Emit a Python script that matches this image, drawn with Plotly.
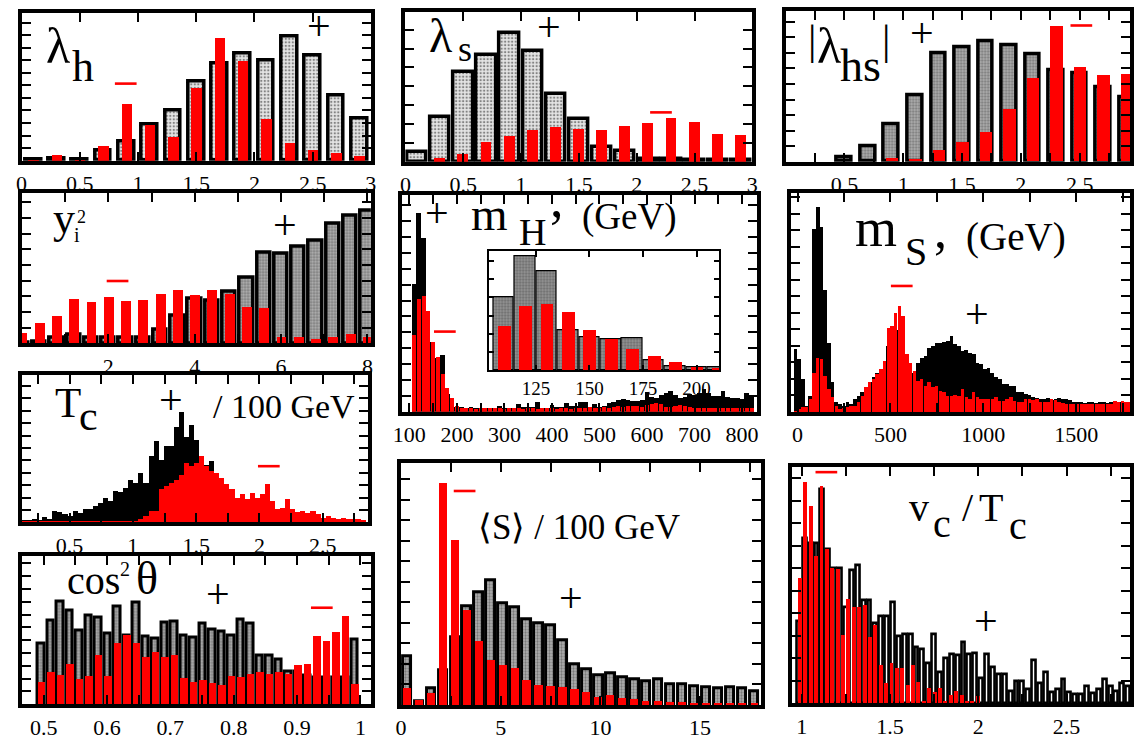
import plotly.graph_objects as go
import numpy as np

# ---------------- DATA (heights in arbitrary count units) ----------------
lam_bins = [0.1, 0.3, 0.5, 0.7, 0.9, 1.1, 1.3, 1.5, 1.7, 1.9, 2.1, 2.3, 2.5, 2.7, 2.9]
lh_plus = [3, 5, 3, 31, 59, 109, 153, 238, 293, 324, 303, 376, 319, 198, 128]
lh_minus = [4, 18, 4, 46, 173, 108, 74, 221, 371, 304, 128, 56, 34, 24, 14]
ls_plus = [29, 134, 271, 324, 389, 334, 204, 129, 44, 34, 9, 9, 6, 4, 6]
ls_minus = [0, 11, 24, 61, 77, 96, 106, 99, 97, 108, 117, 132, 119, 84, 82]

lhs_bins = [0.5, 0.7, 0.9, 1.1, 1.3, 1.5, 1.7, 1.9, 2.1, 2.3, 2.5, 2.7, 2.9]
lhs_plus = [14, 48, 114, 202, 327, 347, 364, 352, 326, 277, 268, 224, 196]
lhs_minus = [0, 0, 9, 7, 36, 59, 89, 159, 253, 411, 286, 261, 266]

yi_bins = [0.0, 0.4, 0.8, 1.2, 1.6, 2.0, 2.4, 2.8, 3.2, 3.6, 4.0, 4.4, 4.8, 5.2, 5.6, 6.0, 6.4, 6.8, 7.2, 7.6, 8.0]
yi_plus = [1, 4, 17, 27, 17, 17, 17, 17, 41, 84, 136, 129, 156, 199, 276, 271, 292, 311, 361, 386, 401]
yi_minus = [32, 64, 84, 136, 126, 141, 129, 132, 152, 162, 147, 164, 151, 112, 109, 19, 21, 14, 19, 29, 19]

mh_bins = list(range(110, 830, 10))
mh_plus = [385, 602, 525, 209, 174, 162, 171, 52, 21, 14,
           15, 12, 14, 10, 12, 11, 10, 12, 18, 10, 10, 12, 22, 15, 14, 15, 30, 12, 12, 20,
           15, 15, 25, 18, 18, 28, 28, 15, 22, 15, 17, 25, 30, 35, 38, 35, 32, 33, 35, 58,
           45, 42, 50, 55, 62, 50, 42, 45, 52, 50, 55, 68, 55, 48, 48, 62, 43, 42, 42, 38,
           55, 45]
mh_minus = [232, 340, 349, 305, 209, 166, 113, 72, 40, 17,
            12, 10, 12, 8, 12, 10, 12, 10, 12, 8, 10, 12, 10, 8, 12, 10, 8, 10, 12, 10,
            8, 12, 10, 8, 12, 10, 12, 14, 10, 12, 14, 12, 14, 16, 15, 18, 16, 18, 15, 20,
            22, 26, 24, 15, 14, 18, 20, 16, 14, 12, 12, 10, 12, 10, 12, 10, 12, 10, 10, 12,
            10, 10]

ms_bins = list(range(-10, 1800, 20))
ms_plus = [190, 160, 100, 20, 50, 555, 622, 560, 370, 210,
           90, 30, 25, 20, 30, 25, 40, 50, 60, 75,
           90, 105, 120, 130, 150, 200, 230, 250, 280, 240,
           160, 130, 120, 150, 165, 170, 195, 200, 210, 208,
           212, 215, 232, 205, 200, 185, 188, 180, 175, 150,
           145, 130, 135, 120, 105, 100, 85, 85, 80, 78,
           62, 60, 55, 52, 45, 42, 40, 40, 42, 38,
           40, 43, 40, 40, 38, 32, 30, 30, 28, 30,
           30, 28, 30, 30, 28, 30, 30, 28, 30, 30, 30]
ms_minus = [5, 10, 15, 15, 40, 120, 165, 160, 110, 70,
            45, 20, 10, 12, 15, 20, 20, 30, 50, 75,
            90, 100, 115, 130, 155, 255, 260, 300, 320, 290,
            175, 150, 125, 95, 100, 80, 90, 75, 80, 65,
            60, 50, 50, 52, 50, 70, 45, 40, 60, 45,
            40, 40, 40, 40, 47, 35, 35, 40, 45, 35,
            30, 30, 40, 40, 38, 40, 30, 30, 30, 40,
            38, 30, 28, 25, 25, 25, 25, 25, 25, 25,
            25, 25, 25, 25, 25, 25, 35, 30, 35, 30, 30]

tc_bins = [round(0.14 + 0.04 * k, 2) for k in range(68)]
tc_plus = [8, 8, 10, 8, 18, 12, 35, 32, 25, 20, 35, 30, 42, 40, 50, 60, 75, 65, 95, 92,
           105, 130, 120, 150, 120, 200, 245, 190, 230, 230, 290, 335, 260, 295, 250, 170, 175, 185, 140, 110,
           100, 75, 70, 65, 70, 75, 60, 50, 40, 40, 35, 30, 30, 25, 25, 22, 20, 15, 12, 15,
           10, 8, 10, 10, 8, 10, 8, 8]
tc_minus = [2] * 23 + [10, 20, 35, 35, 100, 110, 120, 130, 145, 180, 170, 180, 200, 170, 155, 150, 135, 115, 100,
                       75, 85, 70, 90, 75, 85, 115, 65, 40, 45, 70, 40, 32, 35, 30, 35, 25, 15, 20, 15,
                       12, 15, 10, 12, 10, 8]

cos_bins = [round(0.4955 + 0.015 * k, 4) for k in range(34)]
cos_plus = [185, 253, 312, 285, 222, 268, 264, 213, 297, 208, 308, 205, 200, 247, 250, 207, 203,
            243, 227, 220, 207, 257, 245, 148, 148, 135, 98, 98, 86, 80, 80, 80, 80, 195]
cos_minus = [67, 97, 87, 120, 75, 83, 148, 85, 185, 208, 183, 143, 158, 143, 147, 77, 65,
             73, 63, 58, 85, 82, 90, 97, 90, 97, 90, 117, 120, 205, 190, 217, 267, 60]

s_bins = [round(0.3 + 0.6 * k, 2) for k in range(30)]
s_plus = [147, 12, 50, 104, 205, 300, 342, 377, 307, 297, 260, 247, 242, 197, 124,
          109, 91, 97, 85, 77, 71, 77, 64, 64, 57, 55, 50, 55, 50, 42]
s_minus = [50, 15, 34, 672, 497, 285, 194, 134, 120, 112, 74, 59, 57, 53, 47,
           37, 22, 28, 19, 16, 12, 11, 9, 7, 6, 5, 5, 6, 6, 4]

vc_bins_plus = [round(0.983 + 0.0333 * k, 4) for k in range(57)]
vc_plus = [247, 499, 484, 484, 647, 467, 409, 409, 292, 402, 417, 312, 312, 242, 264, 264, 305, 202, 210, 210,
           170, 164, 122, 210, 94, 137, 147, 145, 184, 147, 152, 77, 147, 110, 87, 87, 37, 67, 67, 42,
           129, 62, 94, 34, 42, 74, 32, 27, 27, 52, 30, 42, 74, 52, 37, 62, 52]
vc_bins_minus = [round(0.989 + 0.0305 * k, 4) for k in range(34)]
vc_minus = [377, 670, 595, 445, 657, 465, 410, 405, 205, 315, 290, 290, 297, 200, 235, 115, 60,
            120, 105, 105, 55, 115, 65, 5, 45, 33, 45, 5, 25, 38, 23, 5, 5, 20]

# ---------------- LAYOUT HELPERS ----------------
W, H = 1136, 740
FONT = "Liberation Serif"
RED = "#ff0000"
fig = go.Figure()
layout = {}
annotations = []
shapes = []


def dom_x(a, b):
    return [max(0, a / W), min(1, b / W)]


def dom_y(top, bottom):
    return [1 - bottom / H, 1 - top / H]


def fmt(v):
    s = ("%.2f" % v).rstrip("0").rstrip(".")
    return s


def add_axes(i, xpx, ypx, xr, yr, ticks, labels, ydtick, lw=4, fs=22, tlen=9):
    xn = "xaxis" if i == 1 else "xaxis%d" % i
    yn = "yaxis" if i == 1 else "yaxis%d" % i
    ticktext = [fmt(t) if any(abs(t - l) < 1e-9 for l in labels) else "" for t in ticks]
    layout[xn] = dict(domain=dom_x(*xpx), range=xr, anchor="y" if i == 1 else "y%d" % i,
                      tickmode="array", tickvals=ticks, ticktext=ticktext,
                      ticks="inside", ticklen=tlen, tickwidth=1.5, tickcolor="black",
                      mirror="allticks", showline=True, linewidth=lw, linecolor="black",
                      showgrid=False, zeroline=False,
                      tickfont=dict(family=FONT, size=fs, color="black"))
    layout[yn] = dict(domain=dom_y(*ypx), range=yr, anchor="x" if i == 1 else "x%d" % i,
                      tickmode="linear", tick0=0, dtick=ydtick,
                      ticks="inside", ticklen=tlen, tickwidth=1.5, tickcolor="black",
                      mirror="allticks", showline=True, linewidth=lw, linecolor="black",
                      showgrid=False, zeroline=False, showticklabels=False)


LIGHT = dict(shape=".", fgcolor="#222222", bgcolor="#e4e4e4", size=3.5, solidity=0.35)
DARK = dict(shape=".", fgcolor="#333333", bgcolor="#b4b4b4", size=3, solidity=0.45)
INSET = dict(shape=".", fgcolor="#333333", bgcolor="#999999", size=3, solidity=0.45)


def bars(i, x, y, w, color="black", pattern=None, lw=0.0, lc="black"):
    ax = "" if i == 1 else str(i)
    marker = dict(color=color, line=dict(width=lw, color=lc))
    if pattern is not None:
        marker["pattern"] = pattern
    fig.add_trace(go.Bar(x=x, y=y, width=w, marker=marker, xaxis="x" + ax, yaxis="y" + ax,
                         showlegend=False, hoverinfo="skip"))


def txt(s, xc, base, size, color="black"):
    yc = base - 0.3375 * size
    annotations.append(dict(text=s, x=xc / W, y=1 - yc / H, xref="paper", yref="paper",
                            xanchor="center", yanchor="middle", showarrow=False,
                            font=dict(family=FONT, size=size, color=color)))


def pm(xp, yp, xm, ym, size=42):
    # black "+" sign as text, red "minus" sign as a short thick red stroke
    txt("+", xp, yp + 0.25 * size, size)
    shapes.append(dict(type="line", xref="paper", yref="paper",
                       x0=(xm - 11) / W, x1=(xm + 11) / W, y0=1 - ym / H, y1=1 - ym / H,
                       line=dict(color=RED, width=2.6)))


def rng(a, b, s):
    n = int(round((b - a) / s))
    return [round(a + k * s, 4) for k in range(n + 1)]


# ---- Panel 1: lambda_h
add_axes(1, (12.7, 366.7), (12.7, 162), [0, 3], [0, 448], rng(0, 3, 0.5), rng(0, 3, 0.5), 38)
bars(1, lam_bins, lh_plus, 0.135, "#e4e4e4", LIGHT, 3.5)
bars(1, lam_bins, lh_minus, 0.09, RED)
txt("λ", 50, 63, 50); txt("h", 75, 82, 44)
pm(314, 30, 118.3, 84.3)

# ---- Panel 2: lambda_s
add_axes(2, (401.7, 753.3), (12, 163), [0, 3], [0, 453], rng(0, 3, 0.5), rng(0, 3, 0.5), 57)
bars(2, lam_bins, ls_plus, 0.168, "#e4e4e4", LIGHT, 3.5)
bars(2, lam_bins, ls_minus, 0.094, RED)
txt("λ", 437.5, 51.7, 48); txt("s", 461.7, 61.7, 36)
pm(547.3, 30.7, 660.7, 113.3)

# ---- Panel 3: |lambda_hs|
add_axes(3, (787, 1136), (11.3, 163), [0, 2.928], [0, 455], rng(0.25, 2.75, 0.25), rng(0.5, 2.5, 0.5), 47)
bars(3, lhs_bins, lhs_plus, 0.126, "#b4b4b4", DARK, 3.5)
bars(3, lhs_bins, lhs_minus, 0.106, RED)
txt("|", 814, 55, 42); txt("λ", 830.8, 63.3, 50); txt("hs", 863.3, 81.7, 46); txt("|", 888.3, 55, 42)
pm(925, 36.7, 1086.7, 25.7)

# ---- Panel 4: y_i^2
add_axes(4, (12.7, 366.7), (194.3, 346.3), [-0.01, 8.08], [0, 456], rng(1, 8, 1), [2, 4, 6, 8], 47.5)
bars(4, yi_bins, yi_plus, 0.31, "#b4b4b4", DARK, 3.5)
bars(4, yi_bins, yi_minus, 0.23, RED)
txt("y", 55.8, 235.3, 44); txt("i", 69, 243.3, 20); txt("2", 73.7, 225, 18)
pm(280, 230.8, 110, 283.3)

# ---- Panel 5: m_H (main)
add_axes(5, (398.3, 758), (196.7, 415), [84.6, 831.4], [0, 655], rng(100, 800, 50), rng(100, 800, 100), 48)
bars(5, mh_bins, mh_plus, 10, "black")
bars(5, mh_bins, mh_minus, 8.5, RED)
txt("m", 486.7, 232, 47); txt("H", 530.8, 246.7, 38); txt(",", 555, 219, 54)
txt("(GeV)", 629, 231.5, 37)
pm(433.3, 218.3, 441.7, 334.3)

# ---- Panel 6: m_H inset
add_axes(6, (486, 720), (253.3, 373.3), [102.9, 210.7], [0, 628], [125, 150, 175, 200], [125, 150, 175, 200],
         96, lw=1.5, fs=19, tlen=6)
bars(6, mh_bins[:11], mh_plus[:11], 9.6, "#999999", INSET, 1.2)
bars(6, mh_bins[:11], mh_minus[:11], 6, RED)

# ---- Panel 7: m_S
add_axes(7, (792.7, 1136), (194.3, 415.3), [-34, 1790], [0, 663], rng(0, 1750, 250), [0, 500, 1000, 1500], 50)
bars(7, ms_bins, ms_plus, 20, "black")
bars(7, ms_bins, ms_minus, 18.5, RED)
txt("m", 878.5, 248.3, 54); txt("S", 919, 266.7, 40); txt(",", 944, 249, 52)
txt("(GeV)", 1020, 252, 39)
pm(980.7, 320.7, 904.7, 288.3)

# ---- Panel 8: T_c
add_axes(8, (12.7, 364), (378, 526.7), [0.12, 2.86], [0, 446], rng(0.25, 2.75, 0.25), rng(0.5, 2.5, 0.5), 37.5)
bars(8, tc_bins, tc_plus, 0.04, "black")
bars(8, tc_bins, tc_minus, 0.04, RED)
txt("T", 60, 420, 43); txt("c", 81, 433.3, 42); txt("/ 100 GeV", 279, 421.7, 34)
pm(163.7, 407.3, 263.3, 470)

# ---- Panel 9: cos^2 theta
add_axes(9, (12.7, 367), (561, 710), [0.465, 1.017], [0, 447], rng(0.5, 1.0, 0.05), rng(0.5, 1.0, 0.1), 38.7)
bars(9, cos_bins, cos_plus, 0.0104, "#b4b4b4", DARK, 3)
bars(9, cos_bins, cos_minus, 0.012, RED)
txt("cos", 86, 598.3, 40); txt("2", 118, 580, 20); txt("θ", 140, 598.3, 46)
pm(212.3, 602.3, 317, 612.7)

# ---- Panel 10: <S>
add_axes(10, (397.3, 761.7), (467, 710.7), [0, 18.04], [0, 731], rng(0, 17.5, 2.5), [0, 5, 10, 15], 62)
bars(10, s_bins, s_plus, 0.43, "#b4b4b4", DARK, 3)
bars(10, s_bins, s_minus, 0.41, RED)
txt("⟨S⟩ / 100 GeV", 577.5, 543.3, 35)
pm(570, 606.7, 461.7, 495)

# ---- Panel 11: v_c / T_c
add_axes(11, (793.3, 1136), (471, 709), [0.944, 2.859], [0, 714], rng(1, 2.75, 0.25), [1, 1.5, 2, 2.5], 68)
bars(11, vc_bins_plus, vc_plus, 0.022, "white", None, 2.6)
bars(11, vc_bins_minus, vc_minus, 0.0223, RED)
txt("v", 922.5, 525, 40); txt("c", 945.5, 541.7, 40); txt("/", 971.5, 525, 40)
txt("T", 995, 525, 40); txt("c", 1022.5, 543.3, 40)
pm(990.3, 630, 828.3, 476)

fig.update_layout(**layout)
fig.update_layout(width=W, height=H, margin=dict(l=0, r=0, t=0, b=0), barmode="overlay",
                  paper_bgcolor="white", plot_bgcolor="white", annotations=annotations,
                  shapes=shapes, showlegend=False, bargap=0)
fig.write_html("out.html")
